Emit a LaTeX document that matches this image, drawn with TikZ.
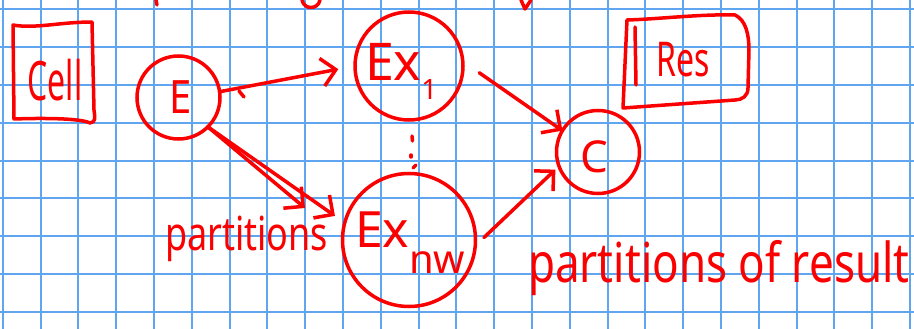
\documentclass[tikz,border=0pt]{standalone}
\usepackage{fontspec}
\setmainfont{Noto Sans}
\usetikzlibrary{arrows.meta}
\definecolor{inkred}{RGB}{250,0,0}
\definecolor{gridblue}{RGB}{95,165,240}
\begin{document}
\begin{tikzpicture}[x=1pt,y=-1pt,
  gridline/.style={draw=gridblue, line width=2pt},
  ink/.style={draw=inkred, line width=3.5pt, line cap=round, line join=round},
  bubble/.style={circle, draw=inkred, line width=3.5pt, inner sep=0pt, outer sep=0pt},
  lbl/.style={text=inkred, inner sep=0pt, outer sep=0pt},
  conn/.style={ink, -{Straight Barb[length=14pt,width=28pt,line width=3.5pt]}}]
\useasboundingbox (0,0) rectangle (914,329);
\fill[white] (0,0) rectangle (914,329);
% grid paper
\foreach \i in {0,...,24} \draw[gridline] ({2.7+37.8*\i},0) -- ({2.7+37.8*\i},329);
\foreach \j in {0,...,8} \draw[gridline] (0,{9.3+37.8*\j}) -- (914,{9.3+37.8*\j});
% fragments of writing cut off at the top
\draw[ink] (156,0) -- (157,5);
\draw[ink] (302,0) .. controls (304,10) and (318,10) .. (320,0);
\draw[ink] (521,0) -- (525,9) -- (531,0);
% Cell box
\draw[ink] (13,25) .. controls (35,29) and (60,22) .. (92,22) -- (94,110) .. controls (95,118) and (96,122) .. (90,123)
  .. controls (80,118) and (40,118) .. (14,119) -- cycle;
\node[lbl] (cell) at (55,80) {\scalebox{1}[1.7]{\fontsize{32}{32}\selectfont Cell}};
% Res box
\draw[ink] (627,20) .. controls (660,19) and (700,14) .. (735,15) .. controls (746,20) and (749,35) .. (749,50)
  -- (748,88) .. controls (748,96) and (742,100) .. (735,100) -- (623,108) -- cycle;
\draw[ink] (635,27) -- (636,85);
\node[lbl] (res) at (683,60) {\scalebox{1}[1.5]{\fontsize{32}{32}\selectfont Res}};
% circles
\node[bubble, minimum size=83pt] (E) at (178.5,97.5) {};
\node[lbl] (Et) at (181,97) {\scalebox{1}[1.15]{\fontsize{40}{40}\selectfont E}};
\node[bubble, minimum size=108pt] (ex1) at (409,66) {};
\node[lbl, anchor=base west] (ex1t) at (365,81) {\fontsize{52}{52}\selectfont Ex\raisebox{-19pt}{\fontsize{28}{28}\selectfont 1}};
\node[bubble, minimum size=133pt] (exnw) at (409,240) {};
\node[lbl, anchor=base west] (exnwt) at (355,247) {\fontsize{50}{50}\selectfont Ex\raisebox{-26pt}{\fontsize{40}{40}\selectfont nw}};
\node[bubble, minimum size=83pt] (C) at (598,152) {};
\node[lbl] (Ct) at (594,157) {\fontsize{44}{44}\selectfont C};
% vertical ellipsis
\draw[ink] (412,136) -- (412.5,141);
\draw[ink] (411,155) -- (411,157);
\draw[ink] (413,168) -- (416,165);
% connectors
\coordinate (split) at (305,208);
\draw[conn, shorten >=17pt] (E.8) -- (ex1.west);
\draw[ink] (239,91) -- (244,97);
\draw[conn] (E.-45) -- (split);
\draw[conn, shorten >=12pt] (E.-45) -- (exnw.165);
\draw[conn, shorten <=20pt] (ex1.5) -- (C.149);
\draw[conn, shorten <=12pt, shorten >=5pt] (exnw.-5) -- (C.200);
% labels
\node[lbl, anchor=base west] (part) at (165,250) {\scalebox{1}[1.3]{\fontsize{36}{36}\selectfont partitions}};
\node[lbl, anchor=base west] (partres) at (528,282) {\scalebox{1}[1.25]{\fontsize{44}{44}\selectfont partitions of result}};
\end{tikzpicture}
\end{document}
